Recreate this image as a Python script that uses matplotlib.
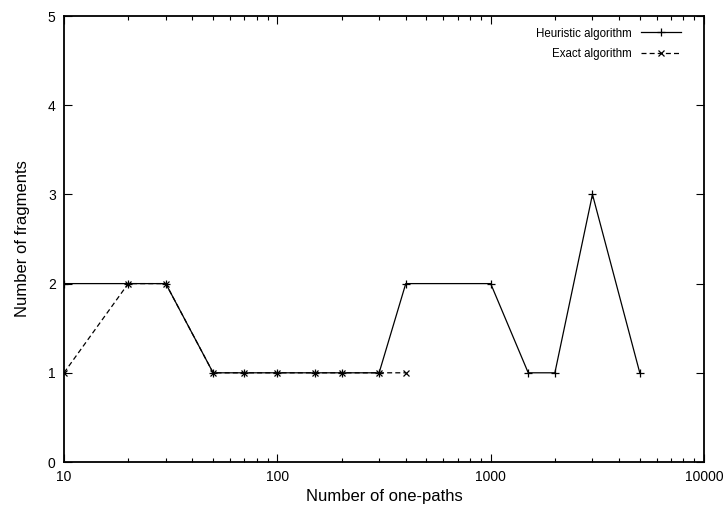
import matplotlib.pyplot as plt
from matplotlib.ticker import FixedLocator, LogLocator, NullFormatter

plt.rcParams['font.family'] = ['Liberation Sans', 'DejaVu Sans']

# data
heur_x = [10, 20, 30, 50, 70, 100, 150, 200, 300, 400, 1000, 1500, 2000, 3000, 5000]
heur_y = [2, 2, 2, 1, 1, 1, 1, 1, 1, 2, 2, 1, 1, 3, 1]
exact_x = [10, 20, 30, 50, 70, 100, 150, 200, 300, 400]
exact_y = [1, 2, 2, 1, 1, 1, 1, 1, 1, 1]
x_ticks = [10, 100, 1000, 10000]
x_labels = ['10', '100', '1000', '10000']

fig = plt.figure(figsize=(7.27, 5.15), dpi=100)
ax = fig.add_axes([64 / 727, 1 - 462 / 515, 640 / 727, 446 / 515])

ax.plot(heur_x, heur_y, color='black', lw=0.9, marker='+', ms=6, mew=0.9,
        label='Heuristic algorithm')
ax.plot(exact_x, exact_y, color='black', lw=0.9, ls=(0, (4, 2.5)), marker='x',
        ms=5, mew=0.9, label='Exact algorithm')

ax.set_xscale('log')
ax.set_xlim(10, 10000)
ax.set_ylim(0, 5)
ax.set_xticks(x_ticks)
ax.set_xticklabels(x_labels)
ax.xaxis.set_minor_locator(LogLocator(base=10, subs=range(2, 10)))
ax.xaxis.set_minor_formatter(NullFormatter())
ax.yaxis.set_major_locator(FixedLocator([0, 1, 2, 3, 4, 5]))

ax.tick_params(which='both', direction='in', top=True, right=True,
               labelsize=10, pad=6)
ax.tick_params(which='major', length=6, width=0.8)
ax.tick_params(which='minor', length=3, width=0.8)
for s in ax.spines.values():
    s.set_linewidth(1.3)

ax.set_xlabel('Number of one-paths', fontsize=12, labelpad=3)
ax.set_ylabel('Number of fragments', fontsize=12, labelpad=13)

ax.legend(loc='upper right', bbox_to_anchor=(1 - 11 / 640, 1), frameon=False,
          markerfirst=False, fontsize=8.3, handlelength=3.5,
          labelspacing=0.75, borderaxespad=0.6)

fig.savefig('out.png', dpi=100)
